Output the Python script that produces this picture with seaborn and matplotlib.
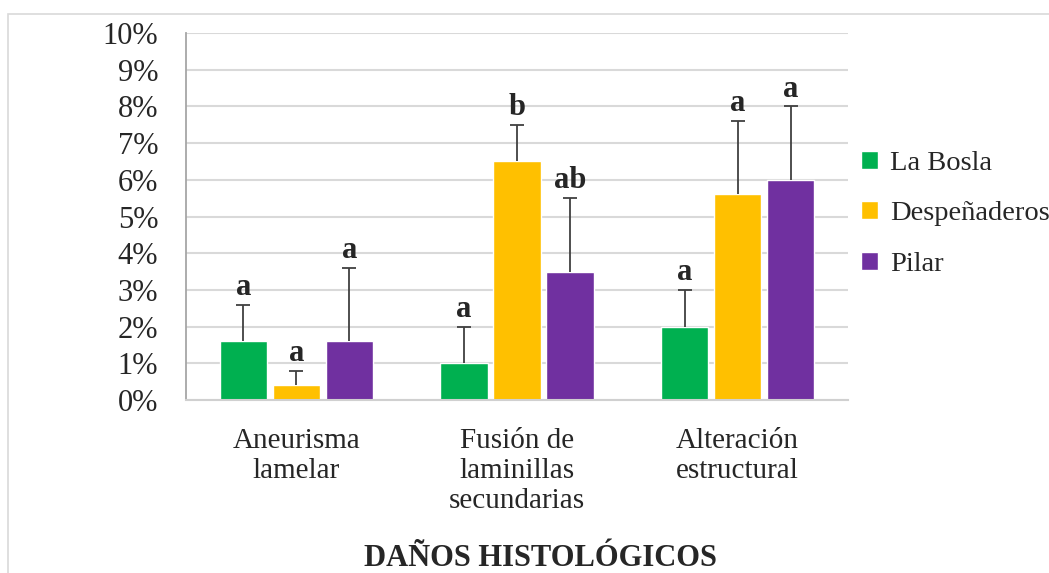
import numpy as np
import pandas as pd
import matplotlib
matplotlib.use("Agg")
import matplotlib.pyplot as plt
import seaborn as sns
from matplotlib.patches import Rectangle
from matplotlib.ticker import FuncFormatter

# datos (porcentaje)
categorias = ["Aneurisma\nlamelar", "Fusión de\nlaminillas\nsecundarias", "Alteración\nestructural"]
sitios = ["La Bosla", "Despeñaderos", "Pilar"]
la_bosla = [1.6, 1.0, 2.0]
desp = [0.4, 6.5, 5.6]
pilar = [1.6, 3.5, 6.0]
err_la_bosla = [1.0, 1.0, 1.0]
err_desp = [0.4, 1.0, 2.0]
err_pilar = [2.0, 2.0, 2.0]
letras_la_bosla = ["a", "a", "a"]
letras_desp = ["a", "b", "a"]
letras_pilar = ["a", "ab", "a"]
colores = ["#00B050", "#FFC000", "#7030A0"]

valores = [la_bosla, desp, pilar]
errores = [err_la_bosla, err_desp, err_pilar]
letras = [letras_la_bosla, letras_desp, letras_pilar]

df = pd.DataFrame({
    "categoria": categorias * 3,
    "sitio": np.repeat(sitios, 3),
    "valor": la_bosla + desp + pilar,
})

sns.set_style("white")
plt.rcParams["font.family"] = ["Liberation Serif", "DejaVu Serif"]

fig = plt.figure(figsize=(10.49, 5.73), dpi=100)
ax = fig.add_axes([0.1773, 0.3019, 0.8084 - 0.1773, 0.9424 - 0.3019])

sns.barplot(data=df, x="categoria", y="valor", hue="sitio", order=categorias,
            hue_order=sitios, palette=colores, width=0.72, gap=0.11,
            errorbar=None, saturation=1, legend=True, ax=ax)

# barras de error (solo hacia arriba) y letras
barras = [p for p in ax.patches if p.get_height() > 0][:9]
for i in range(3):
    for j in range(3):
        p = barras[i * 3 + j]
        xc = p.get_x() + p.get_width() / 2
        v = valores[i][j]
        e = errores[i][j]
        eb = ax.errorbar(xc, v, yerr=[[0], [e]], fmt="none", ecolor="#404040",
                         elinewidth=1.3, capsize=5, capthick=1.3, zorder=3)
        eb[1][0].set_visible(False)  # sin tapa inferior
        ax.annotate(letras[i][j], (xc, v + e), xytext=(0, 7), textcoords="offset points",
                    ha="center", va="baseline", fontsize=22, fontweight="bold")

ax.set_ylim(0, 10)
ax.set_xlim(-0.5, 2.5)
ax.set_yticks(np.arange(0, 11, 1))
ax.yaxis.set_major_formatter(FuncFormatter(lambda v, pos: f"{v:.0f}%"))
ax.yaxis.grid(True, color="#d9d9d9", linewidth=1.5)
ax.set_axisbelow(True)
ax.tick_params(axis="y", length=0, pad=20, labelsize=22)
ax.tick_params(axis="x", length=0, pad=20, labelsize=21)
ax.set_xlabel("")
ax.set_ylabel("")
for s in ["top", "right"]:
    ax.spines[s].set_visible(False)
ax.spines["left"].set_color("#a6a6a6")
ax.spines["bottom"].set_color("#d0d0d0")
ax.spines["left"].set_linewidth(1.3)
ax.spines["bottom"].set_linewidth(1.5)

handles, labels = ax.get_legend_handles_labels()
ax.legend(handles, labels, loc="center left", bbox_to_anchor=(1.02, 0.507),
          frameon=False, fontsize=20.5, handlelength=0.6, handleheight=0.6,
          handletextpad=0.4, labelspacing=0.9, borderaxespad=0, borderpad=0)

fig.text(540 / 1049, 1 - 559 / 573, "DAÑOS HISTOLÓGICOS", ha="center", va="center",
         fontsize=22, fontweight="bold")

# marco gris de la figura
fig.patches.append(Rectangle((8 / 1049, -0.1), 1.2, 1 - 14 / 573 + 0.1,
                             transform=fig.transFigure, fill=False,
                             edgecolor="#d9d9d9", linewidth=1.2))

fig.savefig("out.png", dpi=100)
